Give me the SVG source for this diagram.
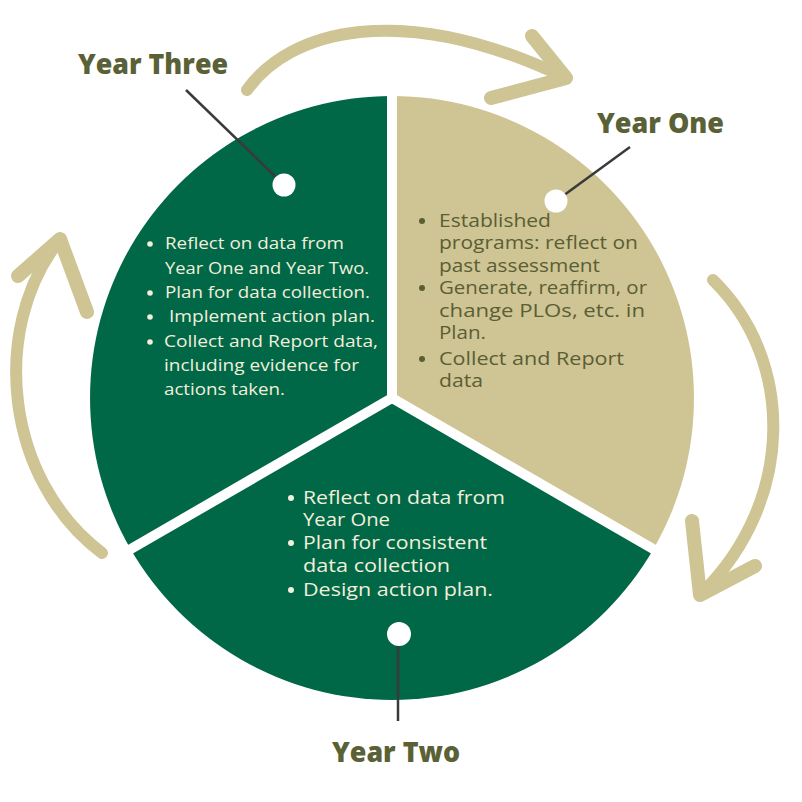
<svg xmlns="http://www.w3.org/2000/svg" width="802" height="802" viewBox="0 0 802 802">
<style>
.tan{fill:#CFC493}
.grn{fill:#006747}
.title{font-family:"Open Sans","Liberation Sans",sans-serif;font-weight:800;font-size:28px;fill:#5B6136}
.wt{font-family:"Open Sans","Liberation Sans",sans-serif;font-weight:500;font-size:16.5px;fill:#F2EFDB}
.wt2{font-family:"Open Sans","Liberation Sans",sans-serif;font-weight:500;font-size:17.5px;fill:#F2EFDB}
.ot{font-family:"Open Sans","Liberation Sans",sans-serif;font-weight:500;font-size:17.5px;fill:#5A5E35}
.bw{fill:#F2EFDB}
.bo{fill:#5A5E35}
.shaft{fill:none;stroke:#CFC493;stroke-width:12;stroke-linecap:round}
.head{fill:none;stroke:#CFC493;stroke-width:14;stroke-linecap:round;stroke-linejoin:round}
.gap{stroke:#FFFFFF;stroke-width:10}
.leader{stroke:#3A3A3A;stroke-width:2.5}
.dot{fill:#FFFFFF}
</style>
<rect width="802" height="802" fill="#FFFFFF"/>

<g id="connectors">
  <path class="shaft" d="M 247 90 C 290 30, 400 0, 562 76"/>
  <path class="head" d="M 532 36 L 566 78 L 491 98"/>
  <path class="shaft" d="M 713 280 C 795 360, 795 500, 703 592"/>
  <path class="head" d="M 692 521 L 700 595 L 755 566"/>
  <path class="shaft" d="M 102 553 C 5 480, -10 330, 58 242"/>
  <path class="head" d="M 18 276 L 60 239 L 87 312"/>
</g>

<g id="year-one">
  <path class="tan" d="M 392 398 L 392 96 A 302 302 0 0 1 653.5 549 Z"/>
</g>
<g id="year-two">
  <path class="grn" d="M 392 398 L 653.5 549 A 302 302 0 0 1 130.5 549 Z"/>
</g>
<g id="year-three">
  <path class="grn" d="M 392 398 L 130.5 549 A 302 302 0 0 1 392 96 Z"/>
</g>
<g id="gaps">
  <line class="gap" x1="392" y1="398" x2="392" y2="80"/>
  <line class="gap" x1="392" y1="398" x2="667" y2="557"/>
  <line class="gap" x1="392" y1="398" x2="117" y2="557"/>
</g>

<g id="year-three-label">
  <line class="leader" x1="186" y1="90" x2="284" y2="185"/>
  <circle class="dot" cx="284" cy="185" r="11.5"/>
  <text class="title" x="78" y="74" textLength="150" lengthAdjust="spacingAndGlyphs">Year Three</text>
  <circle class="bw" cx="150" cy="244" r="2.8"/>
  <text class="wt" x="165" y="249" textLength="179" lengthAdjust="spacingAndGlyphs">Reflect on data from</text>
  <text class="wt" x="165" y="274" textLength="204" lengthAdjust="spacingAndGlyphs">Year One and Year Two.</text>
  <circle class="bw" cx="150" cy="293" r="2.8"/>
  <text class="wt" x="165" y="298" textLength="205" lengthAdjust="spacingAndGlyphs">Plan for data collection.</text>
  <circle class="bw" cx="150" cy="317" r="2.8"/>
  <text class="wt" x="169" y="322" textLength="206" lengthAdjust="spacingAndGlyphs">Implement action plan.</text>
  <circle class="bw" cx="150" cy="342" r="2.8"/>
  <text class="wt" x="164" y="347" textLength="214" lengthAdjust="spacingAndGlyphs">Collect and Report data,</text>
  <text class="wt" x="164" y="371" textLength="195" lengthAdjust="spacingAndGlyphs">including evidence for</text>
  <text class="wt" x="164" y="395" textLength="121" lengthAdjust="spacingAndGlyphs">actions taken.</text>
</g>

<g id="year-one-label">
  <line class="leader" x1="630" y1="147" x2="556" y2="201"/>
  <circle class="dot" cx="556" cy="201" r="11.5"/>
  <text class="title" x="597" y="133" textLength="127" lengthAdjust="spacingAndGlyphs">Year One</text>
  <circle class="bo" cx="422" cy="221" r="3"/>
  <text class="ot" x="439" y="227" textLength="112" lengthAdjust="spacingAndGlyphs">Established</text>
  <text class="ot" x="439" y="249" textLength="199" lengthAdjust="spacingAndGlyphs">programs: reflect on</text>
  <text class="ot" x="439" y="272" textLength="161" lengthAdjust="spacingAndGlyphs">past assessment</text>
  <circle class="bo" cx="422" cy="288" r="3"/>
  <text class="ot" x="439" y="294" textLength="208" lengthAdjust="spacingAndGlyphs">Generate, reaffirm, or</text>
  <text class="ot" x="439" y="317" textLength="206" lengthAdjust="spacingAndGlyphs">change PLOs, etc. in</text>
  <text class="ot" x="439" y="339" textLength="47" lengthAdjust="spacingAndGlyphs">Plan.</text>
  <circle class="bo" cx="422" cy="359" r="3"/>
  <text class="ot" x="439" y="365" textLength="185" lengthAdjust="spacingAndGlyphs">Collect and Report</text>
  <text class="ot" x="439" y="387" textLength="44" lengthAdjust="spacingAndGlyphs">data</text>
</g>

<g id="year-two-label">
  <line class="leader" x1="398" y1="634" x2="398" y2="721"/>
  <circle class="dot" cx="399" cy="634" r="12"/>
  <text class="title" x="332" y="762" textLength="128" lengthAdjust="spacingAndGlyphs">Year Two</text>
  <circle class="bw" cx="291" cy="498" r="3"/>
  <text class="wt2" x="303" y="504" textLength="202" lengthAdjust="spacingAndGlyphs">Reflect on data from</text>
  <text class="wt2" x="303" y="526" textLength="87" lengthAdjust="spacingAndGlyphs">Year One</text>
  <circle class="bw" cx="291" cy="543" r="3"/>
  <text class="wt2" x="303" y="549" textLength="184" lengthAdjust="spacingAndGlyphs">Plan for consistent</text>
  <text class="wt2" x="303" y="572" textLength="147" lengthAdjust="spacingAndGlyphs">data collection</text>
  <circle class="bw" cx="291" cy="590" r="3"/>
  <text class="wt2" x="303" y="596" textLength="190" lengthAdjust="spacingAndGlyphs">Design action plan.</text>
</g>
</svg>
